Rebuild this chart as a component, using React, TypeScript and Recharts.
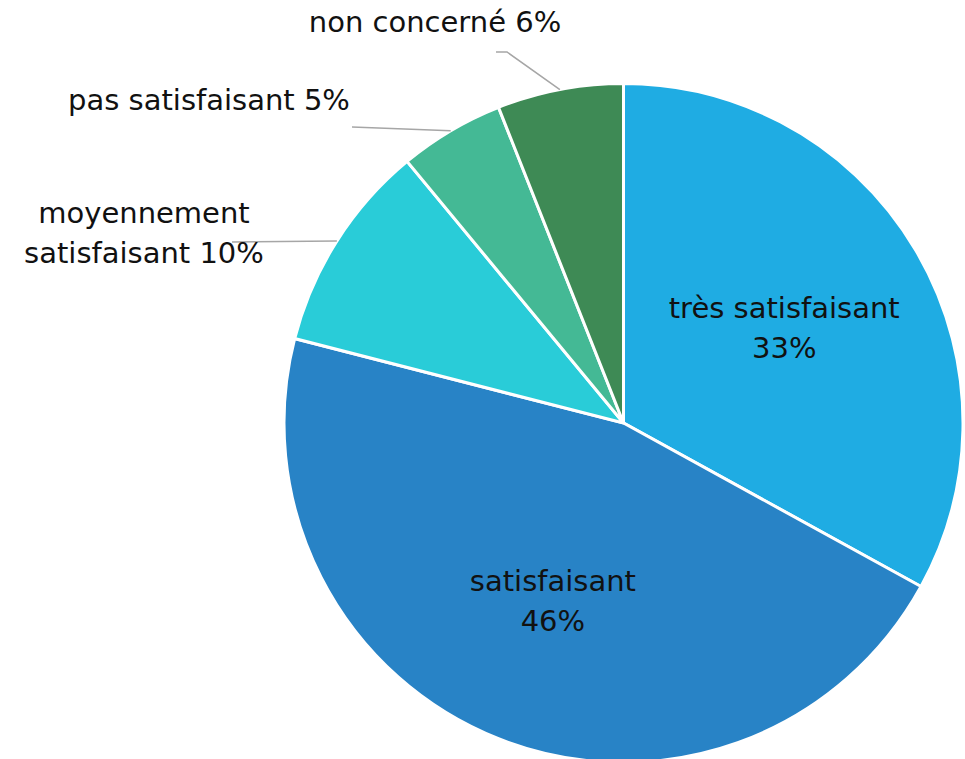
import React from "react";
import { PieChart, Pie, Cell } from "recharts";

const CATEGORIES = [
  "très satisfaisant",
  "satisfaisant",
  "moyennement satisfaisant",
  "pas satisfaisant",
  "non concerné",
];
const VALUES = [33, 46, 10, 5, 6];
const COLORS = ["#1FACE3", "#2883C6", "#29CCD8", "#44B995", "#3E8A55"];

// Label text lines per slice
const LABEL_LINES = [
  ["très satisfaisant", "33%"],
  ["satisfaisant", "46%"],
  ["moyennement", "satisfaisant 10%"],
  ["pas satisfaisant 5%"],
  ["non concerné 6%"],
];

type Layout =
  | { kind: "inside"; r: number }
  | { kind: "outside"; tx: number; ty: number; pts: [number, number][] };

const LABEL_LAYOUT: Layout[] = [
  { kind: "inside", r: 0.55 },
  { kind: "inside", r: 0.565 },
  { kind: "outside", tx: 144, ty: 233, pts: [[232, 242]] },
  { kind: "outside", tx: 209, ty: 100, pts: [[352, 127]] },
  { kind: "outside", tx: 435, ty: 22, pts: [[507, 52], [496, 52]] },
];

const data = CATEGORIES.map((name, i) => ({ name, value: VALUES[i] }));

const RADIAN = Math.PI / 180;
const FONT = "'DejaVu Sans', sans-serif";
const FS = 29;
const LH = 40;

const renderLabel = (props: any) => {
  const { cx, cy, midAngle, outerRadius, index } = props;
  const layout = LABEL_LAYOUT[index];
  const lines = LABEL_LINES[index];
  const cos = Math.cos(-midAngle * RADIAN);
  const sin = Math.sin(-midAngle * RADIAN);
  if (layout.kind === "inside") {
    const x = cx + outerRadius * layout.r * cos;
    const y = cy + outerRadius * layout.r * sin;
    return (
      <g>
        {lines.map((t, k) => (
          <text
            key={k}
            x={x}
            y={y + (k - (lines.length - 1) / 2) * LH}
            textAnchor="middle"
            dominantBaseline="central"
            fill="#111"
            fontFamily={FONT}
            fontSize={FS}
          >
            {t}
          </text>
        ))}
      </g>
    );
  }
  const sx = cx + outerRadius * cos;
  const sy = cy + outerRadius * sin;
  const pts = [[sx, sy], ...layout.pts].map((p) => p.join(",")).join(" ");
  return (
    <g>
      <polyline points={pts} fill="none" stroke="#A6A6A6" strokeWidth={1.5} />
      {lines.map((t, k) => (
        <text
          key={k}
          x={layout.tx}
          y={layout.ty + (k - (lines.length - 1) / 2) * LH}
          textAnchor="middle"
          dominantBaseline="central"
          fill="#111"
          fontFamily={FONT}
          fontSize={FS}
        >
          {t}
        </text>
      ))}
    </g>
  );
};

export default function App() {
  return (
    <div style={{ position: "absolute", left: 0, top: 0, width: 965, height: 759, background: "#fff" }}>
      <PieChart width={965} height={759} margin={{ top: 0, right: 0, bottom: 0, left: 0 }}>
        <Pie
          data={data}
          dataKey="value"
          nameKey="name"
          cx={623.5}
          cy={423}
          outerRadius={339.5}
          startAngle={90}
          endAngle={-270}
          stroke="#fff"
          strokeWidth={3}
          label={renderLabel}
          labelLine={false}
          isAnimationActive={false}
        >
          {data.map((d, i) => (
            <Cell key={d.name} fill={COLORS[i]} />
          ))}
        </Pie>
      </PieChart>
    </div>
  );
}
